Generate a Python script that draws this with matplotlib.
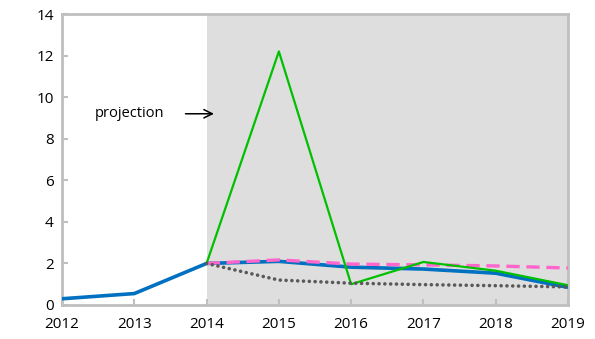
import matplotlib
matplotlib.use("Agg")
import matplotlib.pyplot as plt

years = [2012, 2013, 2014, 2015, 2016, 2017, 2018, 2019]
proj_years = [2014, 2015, 2016, 2017, 2018, 2019]

# actual + projection (blue solid)
blue_vals = [0.3, 0.55, 2.0, 2.1, 1.82, 1.73, 1.53, 0.85]
# projection scenarios
pink_vals = [2.0, 2.17, 1.97, 1.93, 1.88, 1.78]
green_vals = [2.0, 12.2, 1.0, 2.07, 1.65, 0.95]
grey_vals = [2.0, 1.2, 1.05, 0.98, 0.93, 0.87]

plt.rcParams['font.family'] = ['Open Sans', 'DejaVu Sans']

fig = plt.figure(figsize=(5.95, 3.39), dpi=100)
ax = fig.add_axes([62 / 595, 1 - 305 / 339, (568 - 62) / 595, (305 - 14) / 339])

# shaded projection period
ax.axvspan(2014, 2019, color="#dedede", zorder=0, lw=0)

ax.plot(years, blue_vals, color="#0070c0", lw=2.6, zorder=3, solid_capstyle="butt")
ax.plot(proj_years, pink_vals, color="#ff66cc", lw=2.4, ls=(0, (4, 2)), zorder=4)
ax.plot(proj_years, green_vals, color="#00c000", lw=1.6, zorder=5)
ax.plot(proj_years, grey_vals, color="#595959", lw=2.6, ls=(0, (0.01, 1.6)),
        dash_capstyle="round", zorder=6)

ax.annotate("", xy=(2014.14, 9.2), xytext=(2013.67, 9.2),
            arrowprops=dict(arrowstyle="->,head_length=0.6,head_width=0.3",
                            color="black", lw=1.1))
ax.text(2012.45, 9.2, "projection", fontsize=10.5, va="center", ha="left")

ax.set_xlim(2012, 2019)
ax.set_ylim(0, 14)
ax.set_xticks(years)
ax.set_yticks(range(0, 15, 2))
ax.tick_params(direction="in", length=4, color="#bfbfbf", width=1.5,
               labelsize=11, pad=6)
ax.tick_params(axis="x", pad=9)
for s in ax.spines.values():
    s.set_color("#bfbfbf")
    s.set_linewidth(2)

fig.savefig("out.png", dpi=100)
